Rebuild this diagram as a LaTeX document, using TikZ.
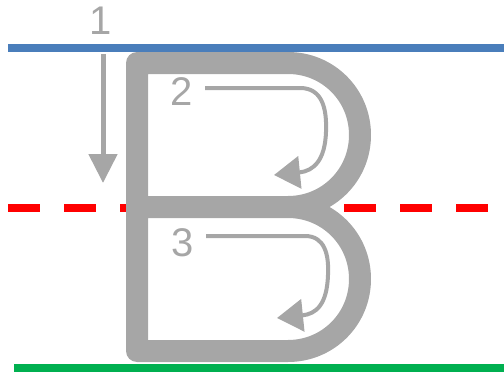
\documentclass[tikz,border=0pt]{standalone}
\usepackage{fontspec}
\setmainfont{Liberation Sans}
\usepackage{tikz}
\usetikzlibrary{arrows.meta,positioning}
\definecolor{stroke}{HTML}{A6A6A6}
\definecolor{capline}{HTML}{4A7EBB}
\definecolor{midline}{HTML}{FF0000}
\definecolor{footline}{HTML}{00B050}

\begin{document}
\begin{tikzpicture}[x=1pt, y=-1pt,
    guide/.style={line width=8pt},
    letter/.style={draw=stroke, line width=22pt, line join=round},
    digit/.style={text=stroke, inner sep=0pt, font=\fontsize{40}{40}\selectfont},
    strokearrow/.style={draw=stroke, line width=4pt, -{Triangle[length=26pt, width=32pt]}}]
  \useasboundingbox (0,0) rectangle (504,372);

  % Guide lines
  \draw[guide, capline] (8,48) -- (504,48);
  \draw[guide, midline, dash pattern=on 32pt off 24pt] (8,208) -- (504,208);
  \draw[guide, footline] (14,368) -- (504,368);

  % Letter B
  \draw[letter] (137,207) -- (288,207)
    .. controls (328,207) and (360,239) .. (360,279)
    .. controls (360,319) and (328,351) .. (288,351)
    -- (137,351) -- (137,63) -- (288,63)
    .. controls (328,63) and (360,95) .. (360,135)
    .. controls (360,175) and (328,207) .. (288,207);

  % Stroke numbers
  \node[digit] (n1) at (101,21) {1};
  \node[digit] (n2) at (182,92) {2};
  \node[digit] (n3) at (183,243) {3};

  % Stroke 1
  \coordinate (s1a) at (103,54);
  \coordinate (s1b) at (103,183);
  \draw[strokearrow, line width=5pt, -{Triangle[length=29pt, width=28pt]}] (s1a) -- (s1b);

  % Stroke 2
  \coordinate (s2a) at (205,88);
  \coordinate (s2b) at (274,175);
  \draw[strokearrow] (s2a) -- (300,88)
    .. controls (322,88) and (327,108) .. (326,132)
    .. controls (325,160) and (314,171) .. (s2b);

  % Stroke 3
  \coordinate (s3a) at (206,236);
  \coordinate (s3b) at (277,318);
  \draw[strokearrow] (s3a) -- (305,236)
    .. controls (325,236) and (329,255) .. (328,275)
    .. controls (327,305) and (316,314) .. (s3b);
\end{tikzpicture}
\end{document}
